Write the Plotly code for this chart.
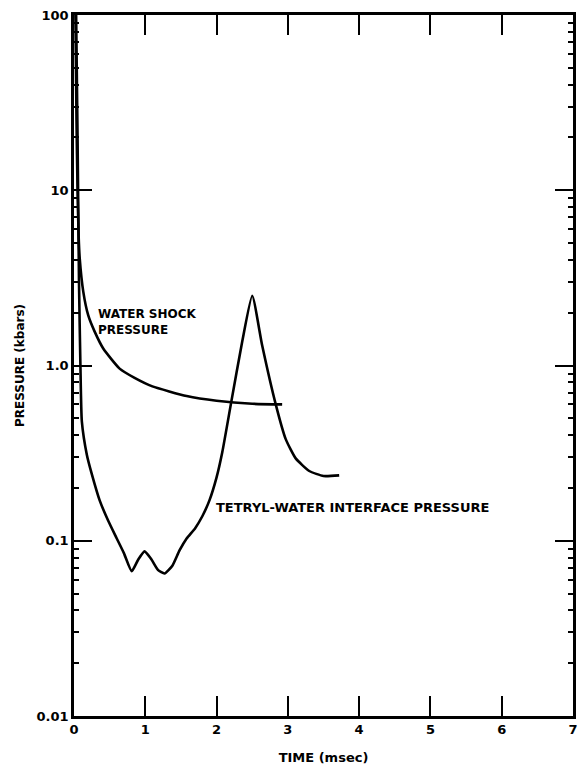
import plotly.graph_objects as go

# Water shock pressure (kbars) vs time (msec)
water_t = [0.02, 0.035, 0.05, 0.065, 0.08, 0.13, 0.2, 0.29, 0.41, 0.64, 0.85, 1.1, 1.58, 2.0, 2.5, 2.92]
water_p = [100, 25, 10, 5.5, 4.1, 2.64, 1.93, 1.56, 1.25, 0.96, 0.85, 0.76, 0.67, 0.63, 0.605, 0.60]

# Tetryl-water interface pressure (kbars) vs time (msec)
tetryl_t = [0.03, 0.05, 0.07, 0.09, 0.11, 0.18, 0.25, 0.36, 0.48, 0.6, 0.7, 0.81, 0.9, 0.99, 1.08, 1.18, 1.27, 1.38, 1.48, 1.58, 1.7, 1.8, 1.9, 2.0, 2.08, 2.2, 2.36, 2.5, 2.64, 2.83, 2.97, 3.11, 3.3, 3.5, 3.72]
tetryl_p = [100, 20, 3.0, 1.0, 0.48, 0.31, 0.24, 0.17, 0.13, 0.103, 0.085, 0.067, 0.078, 0.087, 0.079, 0.068, 0.065, 0.072, 0.088, 0.103, 0.118, 0.138, 0.17, 0.23, 0.32, 0.6, 1.37, 2.5, 1.3, 0.6, 0.38, 0.295, 0.25, 0.234, 0.236]

x_ticks = [0, 1, 2, 3, 4, 5, 6, 7]
y_tickvals = [0.01, 0.1, 1, 10, 100]
y_ticktext = ["0.01", "0.1", "1.0", "10", "100"]

FONT = dict(family="DejaVu Sans", color="black", weight="bold")

fig = go.Figure()
fig.add_trace(go.Scatter(x=water_t, y=water_p, mode="lines",
                         line=dict(color="black", width=2.6, shape="spline", smoothing=0.5),
                         showlegend=False))
fig.add_trace(go.Scatter(x=tetryl_t, y=tetryl_p, mode="lines",
                         line=dict(color="black", width=2.6, shape="spline", smoothing=0.5),
                         showlegend=False))

fig.add_annotation(x=0.31, y=0.345, xref="x", yref="y", text="WATER SHOCK<br>PRESSURE",
                   showarrow=False, xanchor="left", yanchor="top", align="left",
                   font=dict(size=12, **FONT))
fig.add_annotation(x=1.96, y=-0.81, xref="x", yref="y", text="TETRYL-WATER INTERFACE PRESSURE",
                   showarrow=False, xanchor="left", yanchor="middle", align="left",
                   font=dict(size=13, **FONT))

fig.update_xaxes(range=[0, 7], tickvals=x_ticks, ticks="inside", ticklen=20, tickwidth=2,
                 tickcolor="black", showline=True, linecolor="black", linewidth=2.5,
                 mirror="ticks", showgrid=False, zeroline=False, automargin=False,
                 ticklabeloverflow="allow",
                 tickfont=dict(size=13, **FONT),
                 title=dict(text="TIME (msec)", font=dict(size=13, **FONT), standoff=17))
fig.update_yaxes(type="log", range=[-2, 2], tickvals=y_tickvals, ticktext=y_ticktext,
                 ticks="inside", ticklen=18, tickwidth=2, tickcolor="black",
                 showline=True, linecolor="black", linewidth=2.5, mirror="ticks",
                 showgrid=False, zeroline=False, automargin=False,
                 ticklabeloverflow="allow",
                 minor=dict(ticks="inside", ticklen=5, tickwidth=2, tickcolor="black",
                            dtick="D1", showgrid=False),
                 tickfont=dict(size=13, **FONT),
                 title=dict(text="PRESSURE (kbars)", font=dict(size=12, **FONT), standoff=10))

fig.update_layout(width=578, height=769, margin=dict(l=74, r=5, t=15, b=53),
                  paper_bgcolor="white", plot_bgcolor="white")
fig.write_html("out.html", config={"displayModeBar": False},
               post_script="document.body.style.margin='0';document.body.style.overflow='hidden';")
